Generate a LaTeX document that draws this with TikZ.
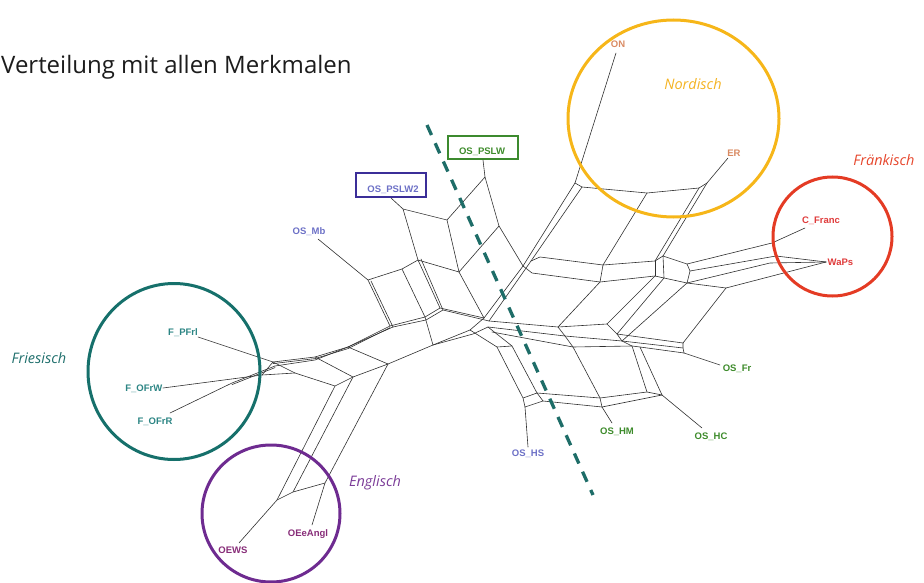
\documentclass[tikz,border=0pt]{standalone}
\usepackage{fontspec}
\setmainfont{Open Sans}
\newfontfamily\lblfont{Liberation Sans}
\usetikzlibrary{shapes.geometric}
\definecolor{netc}{HTML}{303030}
\definecolor{cNord}{HTML}{F6B619}
\definecolor{cFrank}{HTML}{E43B24}
\definecolor{cFries}{HTML}{16706B}
\definecolor{cEngl}{HTML}{6E2B90}
\definecolor{tNord}{HTML}{F4B322}
\definecolor{tFrank}{HTML}{E6462C}
\definecolor{tFries}{HTML}{1F6F6C}
\definecolor{tEngl}{HTML}{7B3C98}
\definecolor{lOrange}{HTML}{D98A62}
\definecolor{lRed}{HTML}{DF3B3B}
\definecolor{lBlue}{HTML}{6C70C6}
\definecolor{lGreen}{HTML}{3D8B2B}
\definecolor{lTeal}{HTML}{2C8584}
\definecolor{lPurple}{HTML}{872C78}
\definecolor{boxBlue}{HTML}{3B2E98}
\definecolor{boxGreen}{HTML}{3C8A2E}
\definecolor{dashc}{HTML}{1E6D68}
\definecolor{titlec}{HTML}{1C1C1C}
\begin{document}
\begin{tikzpicture}[x=1pt,y=-1pt,
  net/.style={draw=netc,line width=0.6pt,line join=round,line cap=round},
  dbl/.style={transform canvas={yshift=-1.6pt}},
  lbl/.style={font=\lblfont\bfseries\fontsize{9.5}{11}\selectfont,inner sep=0.5pt},
  grp/.style={font=\itshape\fontsize{14.5}{17}\selectfont,inner sep=0pt},
  oval/.style={draw,line width=3pt,ellipse,inner sep=0pt},
  tagbox/.style={draw,line width=2.4pt,inner sep=0pt},
  cutline/.style={draw=dashc,line width=3.3pt,dash pattern=on 11pt off 9pt},
]
\useasboundingbox (0,0) rectangle (924,583);

% ---------- title ----------
\node[anchor=base west,inner sep=0pt,font=\fontsize{24}{28}\selectfont,text=titlec] (title) at (1,74) {Verteilung mit allen Merkmalen};

% ---------- coordinates of the network ----------
% PSLW cluster
\coordinate (a1) at (485,177);
\coordinate (a2) at (447,220);
\coordinate (a3) at (499,226);
\coordinate (a4) at (459,272);
\coordinate (b1) at (403,209);
\coordinate (b2) at (418,260);
\coordinate (b2r) at (421,259);
% OS_Mb box
\coordinate (c1) at (368,280);
\coordinate (c1r) at (371,281);
\coordinate (c2) at (402,269);
\coordinate (c3) at (390,326);
\coordinate (c3r) at (393,327);
\coordinate (c4) at (425,317);
\coordinate (c4b) at (426,320);
\coordinate (c5) at (440,308);
\coordinate (c5r) at (443,310);
\coordinate (h0) at (484,318);
\coordinate (h0b) at (489,321);
\coordinate (h0c) at (488,327);
\coordinate (h0d) at (492,332);
\coordinate (k1) at (470,330);
\coordinate (k1b) at (473,334);
\coordinate (k2) at (433,345);
% Friesisch band
\coordinate (g2) at (348,347);
\coordinate (g1) at (315,357);
\coordinate (g1b) at (315,360);
\coordinate (f1) at (273,362);
\coordinate (f1b) at (275,366);
\coordinate (f2) at (262,375);
\coordinate (f5) at (232,383);
\coordinate (j1) at (295,373);
% Englisch band
\coordinate (h1) at (335,386);
\coordinate (g4) at (353,377);
\coordinate (g5) at (388,364);
\coordinate (e1) at (277,500);
\coordinate (e2) at (293,492);
\coordinate (e3) at (325,483);
% Nordisch band
\coordinate (n0) at (523,266);
\coordinate (n0b) at (531,261);
\coordinate (n1) at (540,257);
\coordinate (N1) at (575,183);
\coordinate (N1b) at (582,187);
\coordinate (m1) at (647,193);
\coordinate (N2b) at (699,188);
\coordinate (N2) at (707,183);
\coordinate (m2) at (603,265);
\coordinate (m4) at (655,261);
\coordinate (m3) at (663,256);
\coordinate (p1) at (532,273);
\coordinate (p2) at (600,282);
\coordinate (p3) at (655,276);
\coordinate (p3c) at (664,278);
\coordinate (r1) at (687,264);
\coordinate (r1b) at (690,271);
\coordinate (r2) at (687,283);
\coordinate (r5) at (726,288);
% lower band
\coordinate (q1) at (558,327);
\coordinate (q1r) at (607,324);
\coordinate (q2) at (617,334);
\coordinate (q5) at (683,343);
\coordinate (q1b) at (565,336);
\coordinate (q2b) at (622,341);
\coordinate (q5b) at (683,348);
\coordinate (q1c) at (573,347);
\coordinate (q2c) at (632,346);
\coordinate (q2d) at (640,347);
\coordinate (q5c) at (684,353);
% lower right box
\coordinate (d1) at (497,347);
\coordinate (d2) at (512,346);
\coordinate (s1) at (523,398);
\coordinate (s2) at (537,393);
\coordinate (s1b) at (525,407);
\coordinate (s2b) at (543,401);
\coordinate (s3) at (600,398);
\coordinate (s5) at (602,407);
\coordinate (s6) at (647,392);
\coordinate (s4) at (662,395);
% Fraenkisch band
\coordinate (t1) at (772,243);
\coordinate (t2) at (776,256);
\coordinate (t3) at (770,263);

% leaf ends
\coordinate (eON) at (616,53);
\coordinate (eER) at (728,158);
\coordinate (eCF) at (805,228);
\coordinate (eWP) at (826,262);
\coordinate (eMb) at (318,239);
\coordinate (ePFrl) at (198,337);
\coordinate (eOFrW) at (163,388);
\coordinate (eOFrR) at (170,413);
\coordinate (eOEWS) at (239,543);
\coordinate (eOEe) at (312,525);
\coordinate (eHS) at (528,447);
\coordinate (eHM) at (612,423);
\coordinate (eHC) at (702,428);
\coordinate (eFr) at (720,365);

% ---------- network ----------
% PSLW cluster
\draw[net] (a1) -- (a2) -- (a4) -- (a3) -- (a1);
\draw[net] (b1) -- (a2);
\draw[net] (b1) -- (b2) -- (a4);
\draw[net] (a3) -- (n0);
\draw[net] (a4) -- (h0);
% OS_Mb box
\draw[net] (eMb) -- (c1) -- (c2) -- (b2);
\draw[net] (c1) -- (c3);
\draw[net] (c1r) -- (c3r);
\draw[net] (c2) -- (c4);
\draw[net] (b2) -- (c5);
\draw[net] (b2r) -- (c5r);
\draw[net] (c3) -- (c4) -- (c5) -- (h0);
\draw[net] (c3r) -- (c4b) -- (c5r) -- (h0b);
\draw[net] (c4) -- (k2);
\draw[net] (g5) -- (k2) -- (k1) -- (h0);
\draw[net] (k2) -- (k1b) -- (h0c);
% Friesisch band
\draw[net] (c3) -- (g2) -- (g1) -- (f1);
\draw[net,dbl] (c3) -- (g2) -- (g1) -- (f1);
\draw[net] (c3r) -- (g2) -- (g1b) -- (f1b);
\draw[net] (ePFrl) -- (f1);
\draw[net] (eOFrW) -- (f2) -- (j1);
\draw[net] (f2) -- (f1);
\draw[net] (eOFrR) -- (f5) -- (f1b);
\draw[net,dbl] (f5) -- (f1b);
% Englisch band
\draw[net] (f1) -- (j1) -- (h1) -- (g4) -- (g5);
\draw[net] (g1) -- (g4);
\draw[net] (g2) -- (g5);
\draw[net] (h1) -- (e1);
\draw[net] (g4) -- (e2);
\draw[net] (g5) -- (e3);
\draw[net] (e1) -- (e2) -- (e3);
\draw[net] (e1) -- (eOEWS);
\draw[net] (e3) -- (eOEe);
% Nordisch band
\draw[net] (h0) -- (n0) -- (N1);
\draw[net] (h0b) -- (n0b) -- (N1b);
\draw[net] (N1) -- (N1b) -- (m1) -- (N2b) -- (N2);
\draw[net] (eON) -- (N1);
\draw[net] (eER) -- (N2);
\draw[net] (m1) -- (m2);
\draw[net] (N2) -- (m3);
\draw[net] (N2b) -- (m4);
\draw[net] (n0b) -- (n1) -- (m2) -- (m4) -- (m3) -- (r1);
\draw[net] (n0) -- (p1) -- (p2) -- (p3) -- (p3c) -- (r2) -- (r5);
\draw[net] (m2) -- (p2);
\draw[net] (m4) -- (p3);
\draw[net] (m3) -- (p3c);
\draw[net] (r1) -- (r1b) -- (r2);
% lower band
\draw[net] (h0b) -- (q1) -- (q1r) -- (q2) -- (q5);
\draw[net] (h0c) -- (q1b) -- (q2b) -- (q5b);
\draw[net] (h0d) -- (q1c) -- (q2c) -- (q2d) -- (q5c);
\draw[net] (q1) -- (q1b) -- (q1c);
\draw[net] (q2) -- (q2b) -- (q2c);
\draw[net] (q5) -- (q5b) -- (q5c);
\draw[net] (p2) -- (q1);
\draw[net] (p3) -- (q1r);
\draw[net] (p3c) -- (q2);
\draw[net] (r2) -- (q2b);
\draw[net] (r5) -- (q5);
\draw[net] (q5c) -- (eFr);
% lower right box
\draw[net] (k1) -- (d1) -- (d2) -- (h0c);
\draw[net] (d1) -- (s1) -- (s1b) -- (s2b) -- (s2) -- (s1);
\draw[net] (d2) -- (s2);
\draw[net] (s2) -- (s3) -- (s6) -- (s4);
\draw[net] (s2b) -- (s5) -- (s4);
\draw[net] (s3) -- (s5);
\draw[net] (q1c) -- (s3);
\draw[net] (q2c) -- (s6);
\draw[net] (q2d) -- (s4);
\draw[net] (s1b) -- (eHS);
\draw[net] (s5) -- (eHM);
\draw[net] (s4) -- (eHC);
% Fraenkisch band
\draw[net] (r1) -- (t1) -- (eCF);
\draw[net] (r1b) -- (t2) -- (eWP);
\draw[net] (t1) -- (t2);
\draw[net] (r2) -- (t3) -- (eWP);
\draw[net] (r5) -- (eWP);

% ---------- dashed cut ----------
\coordinate (cutA) at (427,125);
\coordinate (cutB) at (593,495);
\draw[cutline] (cutA) -- (cutB);

% ---------- boxes ----------
\node[tagbox,draw=boxGreen,minimum width=69.6pt,minimum height=22.6pt] (bxPSLW) at (483,147.5) {};
\node[lbl,text=lGreen] (tPSLW) at (482,151.5) {OS\_PSLW};
\node[tagbox,draw=boxBlue,minimum width=69.6pt,minimum height=23.6pt] (bxPSLW2) at (391,185) {};
\node[lbl,text=lBlue] (tPSLW2) at (393,189.5) {OS\_PSLW2};
\draw[net] (bxPSLW.south) -- (a1);
\draw[net] (bxPSLW2.south) -- (b1);

% ---------- labels ----------
\node[lbl,text=lOrange] (lON) at (618,44) {ON};
\node[lbl,text=lOrange] (lER) at (734,153) {ER};
\node[lbl,text=lRed] (lCF) at (821,221) {C\_Franc};
\node[lbl,text=lRed,anchor=west] (lWP) at (827,262) {WaPs};
\node[lbl,text=lBlue] (lMb) at (309,232) {OS\_Mb};
\node[lbl,text=lTeal] (lPFrl) at (183,333) {F\_PFrl};
\node[lbl,text=lTeal,anchor=east] (lOFrW) at (163,389) {F\_OFrW};
\node[lbl,text=lTeal] (lOFrR) at (155,422) {F\_OFrR};
\node[lbl,text=lPurple] (lOEWS) at (233,550) {OEWS};
\node[lbl,text=lPurple] (lOEe) at (308,534) {OEeAngl};
\node[lbl,text=lBlue] (lHS) at (528,454) {OS\_HS};
\node[lbl,text=lGreen] (lHM) at (617,432) {OS\_HM};
\node[lbl,text=lGreen] (lHC) at (711,437) {OS\_HC};
\node[lbl,text=lGreen] (lFr) at (737,369) {OS\_Fr};

% ---------- group circles ----------
\node[oval,draw=cNord,minimum width=211pt,minimum height=197pt] (oNord) at (673.5,118.5) {};
\node[oval,draw=cFrank,minimum width=119pt,minimum height=119pt] (oFrank) at (832.5,236.5) {};
\node[oval,draw=cFries,minimum width=172pt,minimum height=176pt] (oFries) at (174,371.5) {};
\node[oval,draw=cEngl,minimum width=138pt,minimum height=137pt] (oEngl) at (271,513.5) {};

\node[grp,text=tNord] (gNord) at (693,84) {Nordisch};
\node[grp,text=tFrank] (gFrank) at (884,160) {Fränkisch};
\node[grp,text=tFries] (gFries) at (39,358) {Friesisch};
\node[grp,text=tEngl] (gEngl) at (375,483) {Englisch};
\end{tikzpicture}
\end{document}
